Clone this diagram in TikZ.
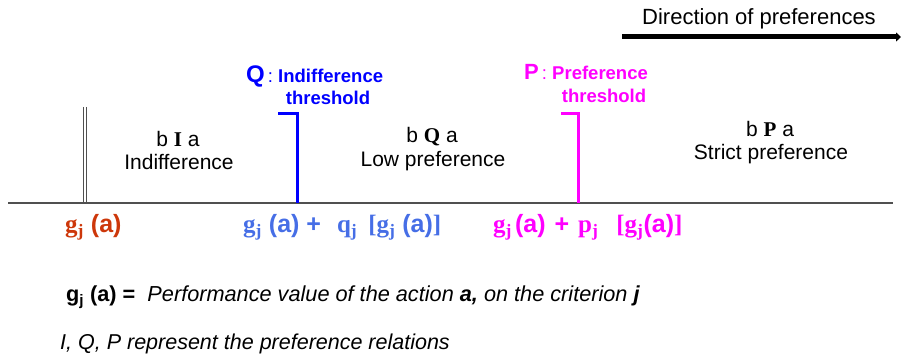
\documentclass[tikz,border=0pt]{standalone}
\usepackage{fontspec}
\setmainfont{Liberation Sans}
\newfontfamily\serifbf{Liberation Serif}
\usetikzlibrary{arrows.meta}
\definecolor{qblue}{RGB}{0,0,255}
\definecolor{pmag}{RGB}{255,0,255}
\definecolor{lblue}{RGB}{70,110,230}
\definecolor{orng}{RGB}{205,55,10}
\definecolor{axisgray}{RGB}{80,80,80}
\tikzset{
  lbl/.style={inner sep=0pt, anchor=base, font=\fontsize{21}{24}\selectfont},
  thr/.style={inner sep=0pt, anchor=base, font=\fontsize{18.5}{21}\selectfont\bfseries},
  val/.style={inner sep=0pt, anchor=base west, font=\fontsize{25}{28}\selectfont\bfseries},
  foot/.style={inner sep=0pt, anchor=base west, font=\fontsize{21.7}{24}\selectfont},
  bracket/.style={line width=3pt},
  thinmark/.style={axisgray, line width=0.9pt},
}
\newcommand{\sg}{{\serifbf g}}
\newcommand{\sj}{\textsubscript{\serifbf j}}
\begin{document}
\begin{tikzpicture}[x=1pt,y=-1pt]
\useasboundingbox (0,0) rectangle (903,363);
% direction arrow
\coordinate (d0) at (622,37);
\coordinate (d1) at (901,37);
\draw[line width=5pt, -{Triangle[length=5pt,width=9pt]}] (d0) -- (d1);
\node[lbl, font=\fontsize{22}{26}\selectfont] (dir) at (759,25) {Direction of preferences};
% axis
\coordinate (ax0) at (8,203);
\coordinate (ax1) at (893,203);
\draw[axisgray, line width=1.3pt] (ax0) -- (ax1);
% g_j(a) mark (double line)
\coordinate (ga0) at (83.5,107);
\coordinate (ga1) at (83.5,203);
\coordinate (gb0) at (86,107);
\coordinate (gb1) at (86,203);
\draw[thinmark] (ga0) -- (ga1);
\draw[thinmark] (gb0) -- (gb1);
% Q threshold bracket
\coordinate (q0) at (278,114);
\coordinate (q1) at (297,114);
\coordinate (q2) at (297,203);
\draw[qblue, bracket] (q0) -- (q1) -- (q2);
% P threshold bracket
\coordinate (p0) at (561,114);
\coordinate (p1) at (578,114);
\coordinate (p2) at (578,203);
\draw[pmag, bracket] (p0) -- (p1) -- (p2);
% threshold labels
\node[thr, anchor=base west, qblue] (qlab) at (246,83) {{\fontsize{24}{28}\selectfont Q}\,{\mdseries :} Indifference};
\node[thr, qblue] (qthr) at (328,105) {threshold};
\node[thr, anchor=base west, pmag] (plab) at (524,80) {{\fontsize{22}{26}\selectfont P}\,{\mdseries :} Preference};
\node[thr, pmag] (pthr) at (604,103) {threshold};
% zone labels
\node[lbl] (bia) at (178,147) {b {\serifbf\bfseries I} a};
\node[lbl] (ind) at (179,170) {Indifference};
\node[lbl] (bqa) at (432,143) {b {\serifbf\bfseries Q} a};
\node[lbl] (low) at (433,167) {Low preference};
\node[lbl] (bpa) at (770,137) {b {\serifbf\bfseries P} a};
\node[lbl] (str) at (771,160) {Strict preference};
% values on axis
\node[val, orng] (v0) at (65,233) {\sg\sj\ (a)};
\node[val, lblue] (v1) at (243,233) {\sg\sj\ (a) +\hspace{16pt}{\serifbf q}\sj\hspace{11pt}{\serifbf [}\sg\sj\ (a){\serifbf ]}};
\node[val, pmag] (v2) at (493,233) {\sg\sj\hspace{3pt}(a)\hspace{9pt}+\hspace{9pt}{\serifbf p}\sj\hspace{18pt}{\serifbf [}\sg\sj(a){\serifbf ]}};
% footnotes
\node[foot] (f1) at (66,302) {\textbf{g\textsubscript{j} (a) =}\ \ \textit{Performance value of the action} \textbf{\textit{a,}} \textit{on the criterion} \textbf{\textit{j}}};
\node[foot, font=\fontsize{21.5}{24}\selectfont] (f2) at (60,350) {\textit{I, Q, P represent the preference relations}};
\end{tikzpicture}
\end{document}
